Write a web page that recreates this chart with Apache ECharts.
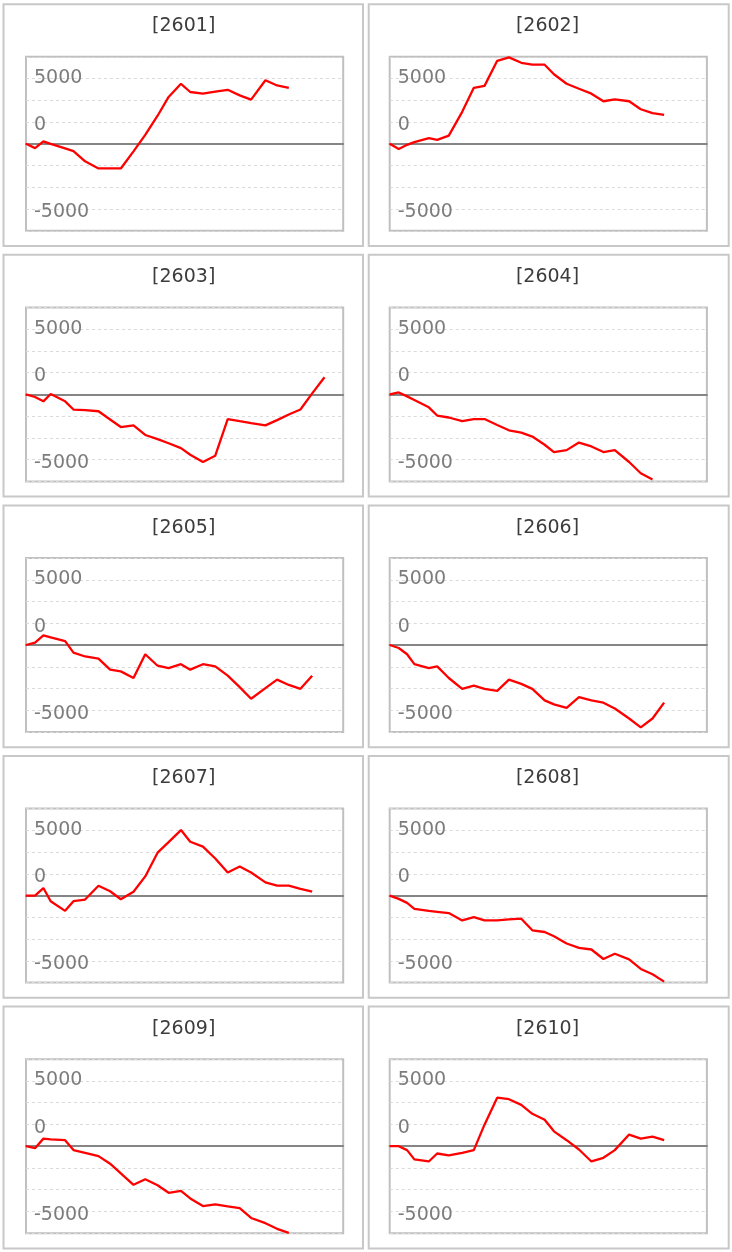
<!DOCTYPE html>
<html><head><meta charset="utf-8">
<script src="https://cdn.jsdelivr.net/npm/echarts@6/dist/echarts.min.js"></script>
<style>html,body{margin:0;padding:0;background:#fff}#c{width:732px;height:1252px}</style>
</head><body><div id="c"></div>
<script>
// panel titles
const codes = ['[2601]','[2602]','[2603]','[2604]','[2605]','[2606]','[2607]','[2608]','[2609]','[2610]'];
// horizontal position of each sample on the (hidden) x axis, axis runs 0..27
const xPos = [0, 0.77, 1.48, 2.10, 3.33, 4.04, 5.03, 6.17, 7.16, 8.07, 9.15, 10.15, 11.20, 12.14, 13.19, 13.98, 15.06, 16.11, 17.17, 18.19, 19.16, 20.38, 21.37, 22.37, 23.36, 24.36, 25.41];
// y tick labels as printed on the chart
const yTickValues = [5000, 5000 / 3, -5000];
const yTickLabels = ['5000', '0', '-5000'];
// series values
const s2601 = [0, -330, 180, 0, -350, -560, -1340, -1890, -1890, -1890, -580, 680, 2150, 3590, 4600, 3970, 3840, 3990, 4140, 3710, 3380, 4870, 4470, 4290];
const s2602 = [0, -400, -80, 130, 430, 300, 630, 2450, 4290, 4440, 6360, 6620, 6210, 6060, 6060, 5330, 4600, 4220, 3840, 3260, 3410, 3260, 2650, 2350, 2220];
const s2603 = [0, -200, -530, 30, -530, -1160, -1210, -1290, -1920, -2500, -2370, -3110, -3430, -3740, -4120, -4620, -5180, -4700, -1890, -2050, -2200, -2370, -1970, -1540, -1160, 80, 1310];
const s2604 = [0, 150, -150, -430, -990, -1620, -1770, -2050, -1890, -1890, -2350, -2750, -2930, -3230, -3860, -4420, -4270, -3690, -3990, -4420, -4270, -5180, -6040, -6520];
const s2605 = [0, 180, 730, 580, 300, -580, -880, -1040, -1890, -2020, -2530, -710, -1590, -1770, -1470, -1890, -1470, -1640, -2350, -3230, -4120, -3310, -2650, -3060, -3360, -2350];
const s2606 = [0, -230, -710, -1470, -1770, -1640, -2530, -3360, -3110, -3360, -3510, -2650, -2980, -3360, -4240, -4550, -4820, -3990, -4240, -4420, -4870, -5630, -6310, -5630, -4420];
const s2607 = [0, 0, 580, -430, -1170, -430, -300, 760, 330, -280, 300, 1470, 3290, 4100, 5020, 4130, 3750, 2840, 1770, 2230, 1770, 1010, 760, 760, 510, 300];
const s2608 = [0, -250, -560, -1010, -1170, -1240, -1340, -1900, -1650, -1900, -1900, -1820, -1770, -2660, -2790, -3120, -3670, -4000, -4130, -4860, -4460, -4890, -5620, -6030, -6590];
const s2609 = [0, -150, 580, 530, 460, -300, -510, -760, -1340, -2080, -2960, -2530, -2990, -3570, -3420, -4000, -4590, -4460, -4610, -4740, -5500, -5900, -6330, -6640];
const s2610 = [0, 0, -300, -1010, -1170, -560, -710, -510, -300, 1650, 3720, 3600, 3170, 2480, 2030, 1140, 460, -250, -1170, -890, -300, 890, 580, 740, 460];
const allSeries = [s2601, s2602, s2603, s2604, s2605, s2606, s2607, s2608, s2609, s2610];

const FONT = 'DejaVu Sans';
const rowPitch = 250.6;
const grids = [], xAxes = [], yAxes = [], series = [], titles = [], graphics = [];
allSeries.forEach((vals, i) => {
  const c = i % 2, r = Math.floor(i / 2);
  graphics.push({
    type: 'rect', silent: true, z: -1,
    shape: { x: c ? 368.7 : 3.5, y: 4.2 + r * rowPitch, width: c ? 360 : 359.5, height: 241.8 },
    style: { fill: 'none', stroke: '#c8c8c8', lineWidth: 2 }
  });
  titles.push({
    text: codes[i], left: c ? 547.5 : 183.7, top: 26.5 + r * rowPitch,
    textAlign: 'center', textVerticalAlign: 'middle', padding: 0,
    textStyle: { fontSize: 19, fontWeight: 'normal', color: '#3c3c3c', fontFamily: FONT }
  });
  grids.push({
    left: c ? 389.7 : 26, top: 56.8 + r * rowPitch, width: 317.2, height: 174,
    show: true, borderColor: '#c0c0c0', borderWidth: 2, backgroundColor: 'transparent'
  });
  xAxes.push({
    type: 'value', gridIndex: i, min: 0, max: 27,
    axisLine: { show: true, onZero: true, lineStyle: { color: '#858585', width: 2 } },
    axisTick: { show: false }, axisLabel: { show: false }, splitLine: { show: false }
  });
  yAxes.push({
    type: 'value', gridIndex: i, min: -20000 / 3, max: 20000 / 3, interval: 5000 / 3,
    axisLine: { show: false }, axisTick: { show: false },
    splitLine: { show: true, lineStyle: { color: '#dadada', type: [3, 3], width: 1 } },
    axisLabel: {
      inside: true, margin: 8, color: '#7c7c7c', fontSize: 19, fontFamily: FONT,
      formatter: function (v) {
        for (let k = 0; k < yTickValues.length; k++) {
          if (Math.abs(v - yTickValues[k]) < 1) return k === 0 ? '{a|' + yTickLabels[k] + '}' : '{b|' + yTickLabels[k] + '}';
        }
        return '';
      },
      rich: {
        a: { color: '#7c7c7c', fontSize: 19, fontFamily: FONT, padding: [0, 0, 1, 0] },
        b: { color: '#7c7c7c', fontSize: 19, fontFamily: FONT, padding: [7, 0, 0, 0] }
      }
    }
  });
  series.push({
    type: 'line', xAxisIndex: i, yAxisIndex: i, showSymbol: false, silent: true,
    data: vals.map((v, k) => [xPos[k], v]),
    lineStyle: { color: '#ff0000', width: 2.3 }, itemStyle: { color: '#ff0000' }
  });
});

const chart = echarts.init(document.getElementById('c'), null, { renderer: 'canvas' });
chart.setOption({
  animation: false, backgroundColor: '#ffffff',
  title: titles, grid: grids, xAxis: xAxes, yAxis: yAxes, series: series, graphic: graphics
});
</script></body></html>
